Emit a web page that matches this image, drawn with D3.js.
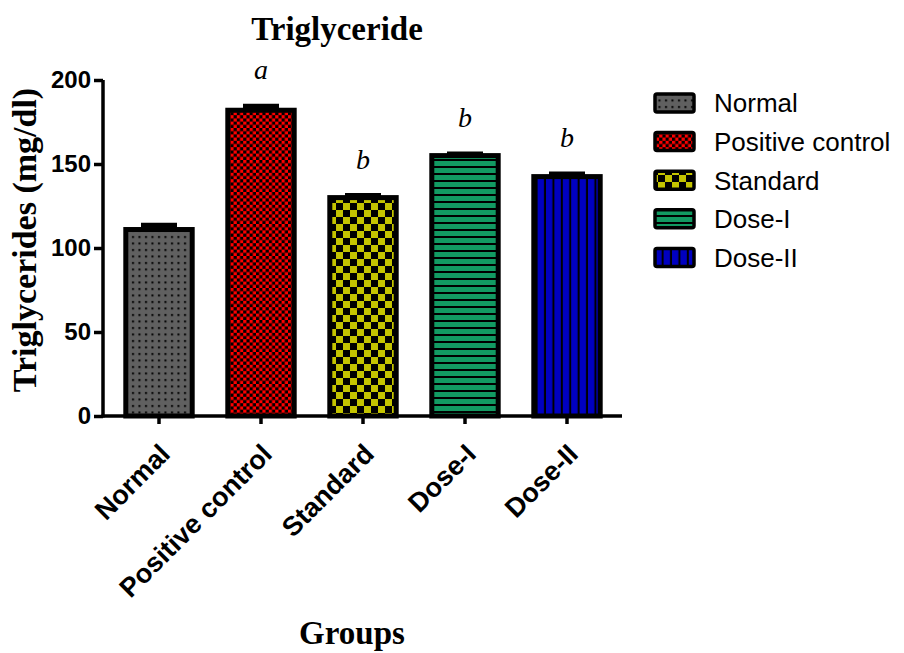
<!DOCTYPE html>
<html>
<head>
<meta charset="utf-8">
<script src="https://cdn.jsdelivr.net/npm/d3@7/dist/d3.min.js"></script>
<style>
  html, body { margin: 0; padding: 0; background: #fff; }
  svg { display: block; }
</style>
</head>
<body>
<svg id="chart" width="904" height="653"></svg>
<script>
// Triglyceride levels per treatment group (mean ± SEM, mg/dl)
const groups = ["Normal", "Positive control", "Standard", "Dose-I", "Dose-II"];
const means = [111, 182, 130, 155, 142.5];
const sems = [2.6, 2.4, 1.2, 1.0, 1.6];
const letters = ["", "a", "b", "b", "b"];
const yTicks = [0, 50, 100, 150, 200];
const fills = ["#606060", "#ff0000", "#c4c400", "#129a62", "#0000c0"];

const svg = d3.select("#chart");
const defs = svg.append("defs");

// Fill patterns for each group
function makePattern(id, w, h, bg, draw) {
  const p = defs.append("pattern")
    .attr("id", id).attr("patternUnits", "userSpaceOnUse")
    .attr("width", w).attr("height", h);
  p.append("rect").attr("width", w).attr("height", h).attr("fill", bg);
  draw(p);
}
// dotted grey
makePattern("pat0", 6.5, 6.5, fills[0], p => {
  p.append("rect").attr("x", 2).attr("y", 2).attr("width", 2).attr("height", 2).attr("fill", "#000");
});
// fine red/black checker
makePattern("pat1", 6.4, 6.4, "#000", p => {
  p.append("rect").attr("x", 0).attr("y", 0).attr("width", 3.2).attr("height", 3.2).attr("fill", fills[1]);
  p.append("rect").attr("x", 3.2).attr("y", 3.2).attr("width", 3.2).attr("height", 3.2).attr("fill", fills[1]);
});
// coarse yellow/black checker
makePattern("pat2", 14, 14, "#000", p => {
  p.append("rect").attr("x", 0).attr("y", 0).attr("width", 7).attr("height", 7).attr("fill", fills[2]);
  p.append("rect").attr("x", 7).attr("y", 7).attr("width", 7).attr("height", 7).attr("fill", fills[2]);
});
// green with horizontal black lines
makePattern("pat3", 10, 7, fills[3], p => {
  p.append("rect").attr("x", 0).attr("y", 5).attr("width", 10).attr("height", 2).attr("fill", "#000");
});
// blue with vertical black lines
makePattern("pat4", 8.4, 10, fills[4], p => {
  p.append("rect").attr("x", 6.4).attr("y", 0).attr("width", 2).attr("height", 10).attr("fill", "#000");
});

const x = d3.scaleBand().domain(groups).range([108, 618]).paddingInner(0.3).paddingOuter(0.15);
const y = d3.scaleLinear().domain([0, 200]).range([416, 80]);

const serif = "'Liberation Serif', 'Times New Roman', serif";
const sans = "'Liberation Sans', Arial, sans-serif";

// Title
svg.append("text")
  .attr("x", 337).attr("y", 40)
  .attr("text-anchor", "middle")
  .attr("font-family", serif)
  .attr("font-weight", "bold").attr("font-size", 33)
  .text("Triglyceride");

// Axis titles
svg.append("text")
  .attr("transform", "translate(36,240) rotate(-90)")
  .attr("text-anchor", "middle")
  .attr("font-family", serif)
  .attr("font-weight", "bold").attr("font-size", 34)
  .text("Triglycerides (mg/dl)");

svg.append("text")
  .attr("x", 352).attr("y", 644)
  .attr("text-anchor", "middle")
  .attr("font-family", serif)
  .attr("font-weight", "bold").attr("font-size", 33)
  .text("Groups");

// Bars
const bw = x.bandwidth();
svg.append("g").selectAll("rect").data(groups).join("rect")
  .attr("x", d => x(d) + 2.5)
  .attr("y", (d, i) => y(means[i]))
  .attr("width", bw - 5)
  .attr("height", (d, i) => y(0) - y(means[i]))
  .attr("fill", (d, i) => `url(#pat${i})`)
  .attr("stroke", "#000").attr("stroke-width", 5);

// Error bars (upper only)
const eb = svg.append("g").attr("stroke", "#000").attr("stroke-width", 5);
groups.forEach((g, i) => {
  const cx = x(g) + bw / 2;
  eb.append("line").attr("x1", cx).attr("x2", cx)
    .attr("y1", y(means[i])).attr("y2", y(means[i] + sems[i]));
  eb.append("line").attr("x1", cx - 18).attr("x2", cx + 18)
    .attr("y1", y(means[i] + sems[i])).attr("y2", y(means[i] + sems[i]));
});

// Significance letters
svg.append("g").selectAll("text").data(groups).join("text")
  .attr("x", d => x(d) + bw / 2)
  .attr("y", (d, i) => y(means[i] + sems[i]) - 27)
  .attr("text-anchor", "middle")
  .attr("font-family", serif)
  .attr("font-style", "italic").attr("font-size", 28)
  .text((d, i) => letters[i]);

// Y axis
const yAxis = svg.append("g")
  .attr("transform", "translate(103,0)")
  .call(d3.axisLeft(y).tickValues(yTicks).tickSize(9).tickPadding(3));
yAxis.select(".domain").attr("stroke-width", 3.5).attr("d", `M0,${y(200)}V${y(0) + 1.5}`);
yAxis.selectAll(".tick line").attr("stroke-width", 3.5);
yAxis.selectAll(".tick text")
  .attr("font-family", sans)
  .attr("font-weight", "bold").attr("font-size", 24).attr("fill", "#000");

// X axis
const xAxis = svg.append("g")
  .attr("transform", `translate(0,${y(0)})`)
  .call(d3.axisBottom(x).tickSize(8).tickPadding(6));
xAxis.select(".domain").attr("stroke-width", 3.5).attr("d", "M101.5,0H622");
xAxis.selectAll(".tick line").attr("stroke-width", 3.5);
xAxis.selectAll(".tick text")
  .attr("font-family", sans)
  .attr("font-weight", "bold").attr("font-size", 27).attr("fill", "#000")
  .attr("text-anchor", "end")
  .attr("dy", "0.35em")
  .attr("transform", "translate(6,33) rotate(-45)")
  .attr("y", 0).attr("x", 0);

// Legend
const legend = svg.append("g");
groups.forEach((g, i) => {
  const cy = 103 + i * 38.6;
  legend.append("rect")
    .attr("x", 655).attr("y", cy - 9).attr("width", 39).attr("height", 18)
    .attr("rx", 2)
    .attr("fill", `url(#pat${i})`)
    .attr("stroke", "#000").attr("stroke-width", 3.5);
  legend.append("text")
    .attr("x", 714).attr("y", cy).attr("dy", "0.36em")
    .attr("font-family", sans)
    .attr("font-size", 26)
    .text(g);
});
</script>
</body>
</html>
